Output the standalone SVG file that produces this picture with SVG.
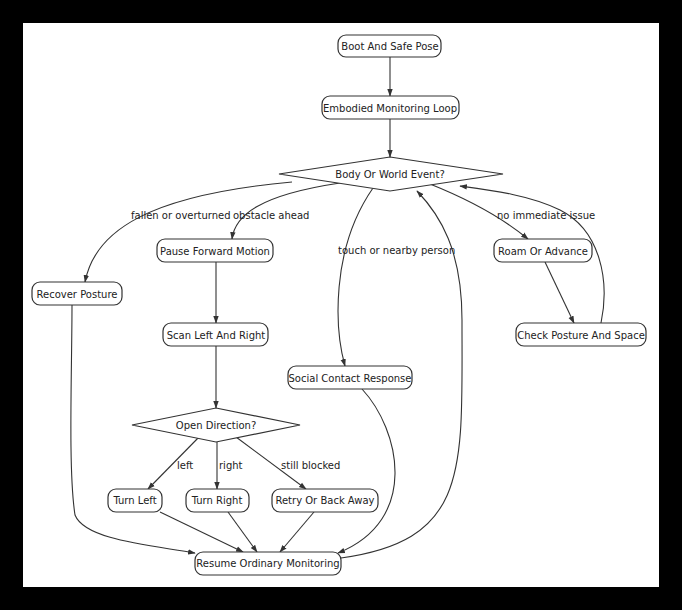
<svg xmlns="http://www.w3.org/2000/svg" width="682" height="610" viewBox="0 0 682 610">
<style>
.n rect,.n polygon{fill:#fff;stroke:#333;stroke-width:1.2}
text{font-family:"DejaVu Sans",sans-serif;font-size:10px;fill:#222}
.n text{text-anchor:middle;dominant-baseline:central}
#edges path{fill:none;stroke:#333;stroke-width:1.1;marker-end:url(#a)}
</style>
<defs><marker id="a" viewBox="0 0 10 10" refX="9" refY="5" markerWidth="7" markerHeight="7" orient="auto"><path d="M0,1.5L10,5L0,8.5z" fill="#333"/></marker></defs>
<rect width="682" height="610" fill="#000"/>
<rect x="23" y="23" width="636" height="564" fill="#fff"/>
<g id="edges">
<path d="M390,57V96"/>
<path d="M390,119V157"/>
<path d="M292,182C150,195 95,230 85,282"/>
<path d="M340,183C260,195 235,215 232,239"/>
<path d="M373,188C330,250 335,330 345,366"/>
<path d="M341,558C470,540 462,470 462,320C462,250 440,215 417,191"/>
<path d="M430,184C470,200 505,220 528,239"/>
<path d="M601,323C610,280 600,230 560,210C530,195 490,190 460,186"/>
<path d="M545,262L574,323"/>
<path d="M72,305C72,370 68,470 75,515C85,540 150,545 195,553"/>
<path d="M362,389C400,430 420,520 338,553"/>
<path d="M216,262V323"/>
<path d="M216,346V408"/>
<path d="M201,435L148,489"/>
<path d="M217,442V489"/>
<path d="M236,437L306,489"/>
<path d="M160,512L243,552"/>
<path d="M228,512L257,552"/>
<path d="M314,512L280,552"/>
</g>
<g id="labels">
<text x="131" y="219">fallen or overturned</text>
<text x="233" y="219">obstacle ahead</text>
<text x="338" y="254">touch or nearby person</text>
<text x="497" y="219">no immediate issue</text>
<text x="177" y="469">left</text>
<text x="219" y="469">right</text>
<text x="281" y="469">still blocked</text>
</g>
<g id="boot" class="n"><rect x="338" y="35" width="103" height="22" rx="8"/><text x="390" y="46">Boot And Safe Pose</text></g>
<g id="loop" class="n"><rect x="322" y="96" width="137" height="23" rx="8"/><text x="390" y="108">Embodied Monitoring Loop</text></g>
<g id="event" class="n"><polygon points="390,157 503,174 390,191 279,174"/><text x="390" y="174">Body Or World Event?</text></g>
<g id="recover" class="n"><rect x="32" y="282" width="90" height="23" rx="8"/><text x="77" y="294">Recover Posture</text></g>
<g id="pause" class="n"><rect x="157" y="239" width="116" height="23" rx="8"/><text x="215" y="251">Pause Forward Motion</text></g>
<g id="scan" class="n"><rect x="163" y="323" width="105" height="23" rx="8"/><text x="216" y="335">Scan Left And Right</text></g>
<g id="social" class="n"><rect x="288" y="366" width="124" height="23" rx="8"/><text x="350" y="378">Social Contact Response</text></g>
<g id="roam" class="n"><rect x="494" y="239" width="98" height="23" rx="8"/><text x="543" y="251">Roam Or Advance</text></g>
<g id="check" class="n"><rect x="516" y="323" width="130" height="23" rx="8"/><text x="581" y="335">Check Posture And Space</text></g>
<g id="open" class="n"><polygon points="216,408 300,425 216,442 132,425"/><text x="216" y="425">Open Direction?</text></g>
<g id="tleft" class="n"><rect x="108" y="489" width="54" height="23" rx="8"/><text x="135" y="500">Turn Left</text></g>
<g id="tright" class="n"><rect x="186" y="489" width="63" height="23" rx="8"/><text x="217" y="500">Turn Right</text></g>
<g id="retry" class="n"><rect x="272" y="489" width="106" height="23" rx="8"/><text x="325" y="500">Retry Or Back Away</text></g>
<g id="resume" class="n"><rect x="195" y="552" width="146" height="23" rx="8"/><text x="268" y="563">Resume Ordinary Monitoring</text></g>
</svg>
